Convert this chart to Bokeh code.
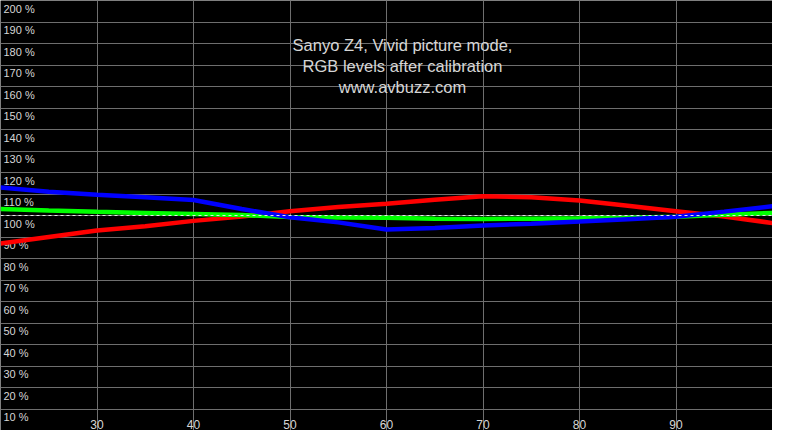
from bokeh.plotting import figure
from bokeh.models import Range1d, Grid, FixedTicker, Span, Label
from bokeh.core.properties import value
from bokeh.embed import file_html
from bokeh.resources import INLINE

# ---- data ----
x_vals = [20, 25, 30, 35, 40, 45, 50, 55, 60, 65, 70, 75, 80, 85, 90, 95, 100]
red_vals = [87.0, 90.0, 93.0, 95.0, 97.5, 99.5, 102.0, 104.0, 105.5, 107.3, 109.0, 108.5, 107.0, 104.5, 102.0, 99.5, 96.5]
green_vals = [103.0, 102.3, 101.7, 101.2, 100.7, 100.2, 99.3, 99.1, 99.0, 98.5, 98.4, 98.5, 98.7, 99.0, 99.4, 100.3, 101.2]
blue_vals = [113.0, 111.0, 109.6, 108.5, 107.2, 103.0, 99.2, 96.8, 93.5, 94.2, 95.3, 96.2, 97.2, 98.3, 99.4, 101.8, 104.3]
x_ticks = [30, 40, 50, 60, 70, 80, 90]
y_ticks = [200, 190, 180, 170, 160, 150, 140, 130, 120, 110, 100, 90, 80, 70, 60, 50, 40, 30, 20, 10]
reference_level = 100
title_lines = ["Sanyo Z4, Vivid picture mode,", "RGB levels after calibration", "www.avbuzz.com"]

W, H = 772, 430
FONT_NAME = "Liberation Sans"
FONT = value(FONT_NAME)
TXT = "#d6d6d6"
GRID = "#6e6e6e"

p = figure(width=W, height=H, output_backend="svg", toolbar_location=None,
           x_range=Range1d(20, 100), y_range=Range1d(0, 200),
           x_axis_location=None, y_axis_location=None,
           min_border=0, min_border_left=0, min_border_right=0,
           min_border_top=0, min_border_bottom=0)
p.background_fill_color = "black"
p.border_fill_color = "black"
p.outline_line_color = None
p.xgrid.visible = False
p.ygrid.visible = False

p.add_layout(Grid(dimension=0, ticker=FixedTicker(ticks=x_ticks),
                  grid_line_color=GRID, grid_line_width=1))
p.add_layout(Grid(dimension=1, ticker=FixedTicker(ticks=y_ticks),
                  grid_line_color=GRID, grid_line_width=1))

# tick labels inside the plot
p.text(x=[20] * len(y_ticks), y=y_ticks, text=[f"{t} %" for t in y_ticks],
       x_offset=3, y_offset=2, text_baseline="top", text_align="left",
       text_color=TXT, text_font=FONT, text_font_size="11px")
p.text(x=x_ticks, y=[0] * len(x_ticks), text=[str(t) for t in x_ticks],
       y_offset=-2, text_baseline="bottom", text_align="center",
       text_color=TXT, text_font=FONT, text_font_size="12px")

# series
p.line(x_vals, red_vals, line_color="#ff0000", line_width=4.5)
p.line(x_vals, green_vals, line_color="#00ff00", line_width=4.5)
p.line(x_vals, blue_vals, line_color="#0000ff", line_width=4.5)

p.add_layout(Span(location=reference_level, dimension="width", line_color="#e6e6e6",
                  line_width=1, line_dash="3 3"))

# title block
for i, t in enumerate(title_lines):
    p.add_layout(Label(x=402, y=H - 35 - i * 21, x_units="screen", y_units="screen",
                       text=t, text_align="center", text_baseline="top",
                       text_color=TXT, text_font=FONT_NAME, text_font_size="16.5px"))

open("out.html", "w").write(file_html(p, INLINE))
